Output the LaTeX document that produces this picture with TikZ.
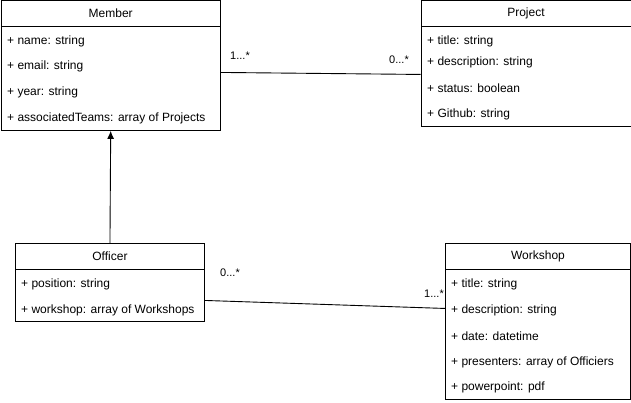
\documentclass[tikz,border=0pt]{standalone}
\usepackage{fontspec}
\setmainfont{Liberation Sans}
\usetikzlibrary{calc, arrows.meta, positioning}

\begin{document}
\begin{tikzpicture}[x=1pt, y=-1pt, >={Latex[length=8pt,width=7pt]}, font=\fontsize{12}{14}\selectfont]
		\tikzstyle{head} = [draw=black, line width=0.9pt, anchor=north west, inner sep=0pt]
		\tikzstyle{body} = [draw=black, line width=0.9pt, anchor=north west, inner sep=0pt]
		\tikzstyle{attr} = [anchor=west, inner sep=0pt]
		\tikzstyle{mult} = [draw=none, inner sep=0pt, font=\fontsize{11}{12}\selectfont]
		\tikzstyle{link} = [line width=0.9pt]
		
		\useasboundingbox (0,0) rectangle (631,403);
		
		% Member
		\node[head, minimum width=219.5pt, minimum height=25.5pt] at (0.5,0.5) (memberH) {Member};
		\node[body, minimum width=219.5pt, minimum height=104pt] at (0.5,26) (memberB) {};
		\node[attr] at (7,41.5) (m1) {+ name: string};
		\node[attr] at (7,66.5) (m2) {+ email: string};
		\node[attr] at (7,92.5) (m3) {+ year: string};
		\node[attr] at (7,118.5) (m4) {+ associatedTeams: array of Projects};
		
		% Project
		\node[head, minimum width=210pt, minimum height=25.5pt] at (420.5,0.5) (projectH) {Project};
		\node[body, minimum width=210pt, minimum height=100pt] at (420.5,26) (projectB) {};
		\node[attr] at (427,41.5) (p1) {+ title: string};
		\node[attr] at (427,62.5) (p2) {+ description: string};
		\node[attr] at (427,88.5) (p3) {+ status: boolean};
		\node[attr] at (427,114.5) (p4) {+ Github: string};
		
		% Officer
		\node[head, minimum width=189pt, minimum height=26pt] at (15,243) (officerH) {Officer};
		\node[body, minimum width=189pt, minimum height=52pt] at (15,269) (officerB) {};
		\node[attr] at (21,284.5) (o1) {+ position: string};
		\node[attr] at (21,310.5) (o2) {+ workshop: array of Workshops};
		
		% Workshop
		\node[head, minimum width=185pt, minimum height=26pt] at (445,243) (workshopH) {Workshop};
		\node[body, minimum width=185pt, minimum height=130pt] at (445,269) (workshopB) {};
		\node[attr] at (451,284.5) (w1) {+ title: string};
		\node[attr] at (451,310.5) (w2) {+ description: string};
		\node[attr] at (451,336.5) (w3) {+ date: datetime};
		\node[attr] at (451,362.5) (w4) {+ presenters: array of Officiers};
		\node[attr] at (451,387.5) (w5) {+ powerpoint: pdf};
		
		% multiplicities
		\node[mult] at (240,56) (l1) {1...*};
		\node[mult] at (399,60) (l2) {0...*};
		\node[mult] at (230,273) (l3) {0...*};
		\node[mult] at (434,294) (l4) {1...*};
		
		\draw[link] ([yshift=6pt]memberB.east) -- ([yshift=2pt]projectB.west);
		\draw[link] ([yshift=-5pt]officerB.east) -- ([yshift=26pt]workshopB.west);
		\draw[link, ->] (officerH.north) -- (memberB.south);
	\end{tikzpicture}
\end{document}
